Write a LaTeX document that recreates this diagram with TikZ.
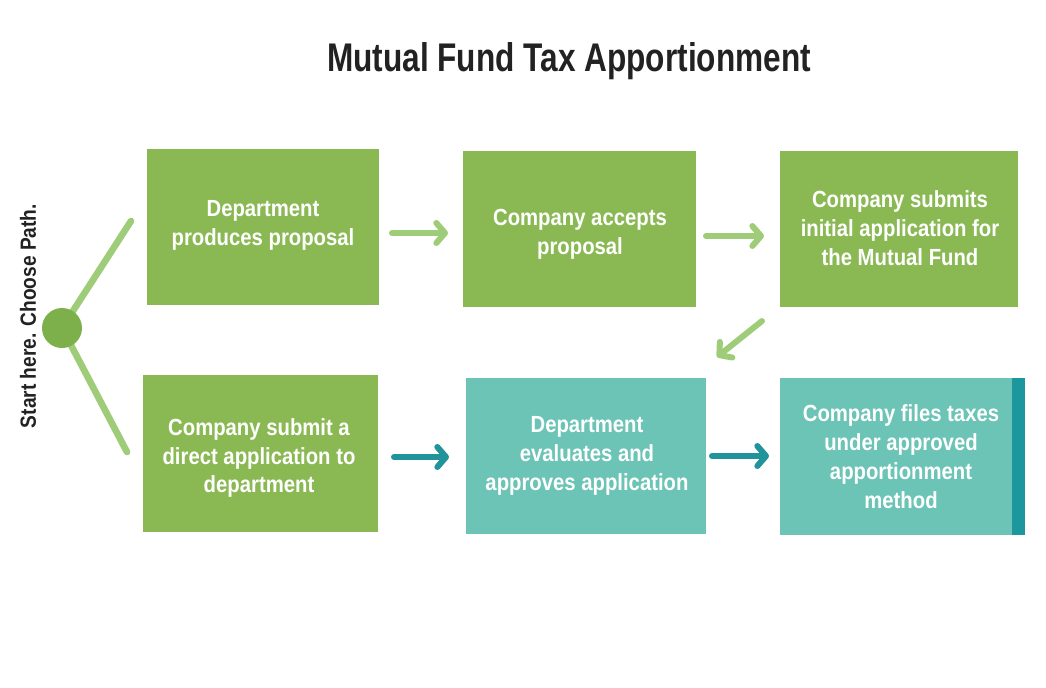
\documentclass[tikz,border=0pt]{standalone}
\usepackage{fontspec}
\setmainfont{Liberation Sans}[FakeStretch=0.79]
\newfontfamily\bodyfont{Liberation Sans}[FakeStretch=0.87]
\usetikzlibrary{arrows.meta}
\definecolor{boxgreen}{HTML}{8AB953}
\definecolor{boxteal}{HTML}{6BC4B5}
\definecolor{stripteal}{HTML}{1C979E}
\definecolor{arrgreen}{HTML}{9ECC78}
\definecolor{arrteal}{HTML}{21939B}
\definecolor{dotgreen}{HTML}{7DB04B}
\definecolor{titlegray}{HTML}{222222}
\tikzset{
  stepbox/.style={draw=none, text=white, font=\bodyfont\bfseries\fontsize{17.5}{21.7}\selectfont, align=center, inner sep=0pt},
  garrow/.style={draw=arrgreen, line width=4.5pt, line cap=round, -{Straight Barb[round,length=6.5pt,width=15pt]}},
  tarrow/.style={draw=arrteal, line width=4.5pt, line cap=round, -{Straight Barb[round,length=6.5pt,width=15pt]}},
  branch/.style={draw=arrgreen, line width=5pt, line cap=round},
}
\begin{document}
\begin{tikzpicture}[x=0.75pt,y=-0.75pt]
\useasboundingbox (0,0) rectangle (1046,687);
% title
\node[text=titlegray, font=\bfseries\fontsize{30}{34}\selectfont] (title) at (569,61) {Mutual Fund Tax Apportionment};
% boxes
\fill[boxgreen] (147,149) rectangle (379,305);
\node[stepbox] (b1) at (263,225) {Department\\produces proposal};
\fill[boxgreen] (463,151) rectangle (696,307);
\node[stepbox] (b2) at (580,234.5) {Company accepts\\proposal};
\fill[boxgreen] (780,151) rectangle (1018,307);
\node[stepbox] (b3) at (900,228) {Company submits\\initial application for\\the Mutual Fund};
\fill[boxgreen] (143,375) rectangle (378,532);
\node[stepbox] (b4) at (259,458) {Company submit a\\direct application to\\department};
\fill[boxteal] (466,378) rectangle (706,534);
\node[stepbox] (b5) at (587,456) {Department\\evaluates and\\approves application};
\fill[boxteal] (780,378) rectangle (1013,535);
\fill[stripteal] (1012,378) rectangle (1025,535);
\node[stepbox] (b6) at (901,457) {Company files taxes\\under approved\\apportionment\\method};
% start
\node[text=titlegray, font=\bodyfont\bfseries\fontsize{16.5}{20}\selectfont, rotate=90] (start) at (28,316) {Start here. Choose Path.};
\coordinate (t1) at (131,221);
\coordinate (t2) at (127,452);
\coordinate (c0) at (62,328);
\draw[branch] (c0) -- (t1);
\draw[branch] (c0) -- (t2);
\node[circle, fill=dotgreen, minimum size=30pt, inner sep=0pt] (dot) at (c0) {};
% arrows
\coordinate (a1s) at (392,233); \coordinate (a1e) at (448,233);
\coordinate (a2s) at (706,236); \coordinate (a2e) at (764,236);
\coordinate (a3s) at (762,321); \coordinate (a3e) at (717,357);
\coordinate (a4s) at (394,457); \coordinate (a4e) at (449,457);
\coordinate (a5s) at (712,456); \coordinate (a5e) at (769,456);
\draw[garrow] (a1s) -- (a1e);
\draw[garrow] (a2s) -- (a2e);
\draw[garrow] (a3s) -- (a3e);
\draw[tarrow] (a4s) -- (a4e);
\draw[tarrow] (a5s) -- (a5e);
\end{tikzpicture}
\end{document}
